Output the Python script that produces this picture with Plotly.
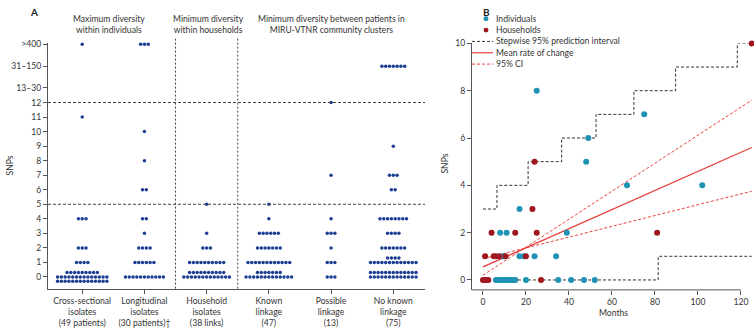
import plotly.graph_objects as go

W, H = 754, 328
FONT = "Lato"
TXT = "#333333"
AX = "#555555"

# ---------------- Panel A data ----------------
groups = [
    "Cross-sectional<br>isolates<br>(49 patients)",
    "Longitudinal<br>isolates<br>(30 patients)†",
    "Household<br>isolates<br>(38 links)",
    "Known<br>linkage<br>(47)",
    "Possible<br>linkage<br>(13)",
    "No known<br>linkage<br>(75)",
]
level_labels = ["0", "1", "2", "3", "4", "5", "6", "7", "8", "9", "10", "11", "12",
                "13–30", "31–150", ">400"]
level_axis = [0, 1, 2, 3, 4, 5, 6, 7, 8, 9, 10, 11, 12, 13, 14.5, 16]

cross_sectional = {"0": 37, "1": 4, "2": 3, "4": 3, "11": 1, ">400": 1}
longitudinal = {"0": 11, "1": 6, "2": 4, "3": 1, "4": 2, "6": 2, "8": 1, "10": 1, ">400": 3}
household = {"0": 23, "1": 10, "2": 3, "3": 1, "5": 1}
known_linkage = {"0": 20, "1": 12, "2": 7, "3": 6, "4": 1, "5": 1}
possible_linkage = {"0": 3, "1": 3, "2": 1, "3": 3, "4": 1, "7": 1, "12": 1}
no_known_linkage = {"0": 26, "1": 17, "2": 7, "3": 4, "4": 8, "6": 2, "7": 3, "9": 1, "31–150": 7}
group_counts = [cross_sectional, longitudinal, household, known_linkage,
                possible_linkage, no_known_linkage]
row_caps = [14, 13, 13, 13, 13, 13]

# ---------------- Panel B data ----------------
ind_months = [6, 7, 8, 9, 10, 10.5, 11, 12, 13, 14, 15, 20, 35, 41, 47, 52,
              9, 10, 17, 19, 24, 34,
              8, 11, 39,
              17,
              67, 102,
              48, 49, 75, 25]
ind_snps = [0, 0, 0, 0, 0, 0, 0, 0, 0, 0, 0, 0, 0, 0, 0, 0,
            1, 1, 1, 1, 1, 1,
            2, 2, 2,
            3,
            4, 4,
            5, 6, 7, 8]
hh_months = [0, 0.7, 1.5, 2.5, 27,
             1, 5, 6, 7.5, 10.5, 20,
             4, 15, 25, 81,
             23, 24, 125]
hh_snps = [0, 0, 0, 0, 0,
           1, 1, 1, 1, 1, 1,
           2, 2, 2, 2,
           3, 5, 10]
step_upper_months = [0, 6.5, 21, 36.6, 52.6, 70.2, 89.6, 118.3, 125]
step_upper_snps = [3, 4, 5, 6, 7, 8, 9, 10, 10]
step_lower_months = [0, 81.5, 125]
step_lower_snps = [0, 1, 1]
fit_months = [0, 125]
mean_snps = [0.55, 5.6]
ci_upper_snps = [0.2, 7.6]
ci_lower_snps = [0.90, 3.75]
b_xticks = [0, 20, 40, 60, 80, 100, 120]
b_yticks = [0, 2, 4, 6, 8, 10]


def px(x):
    return x / W


def py(y):
    return 1 - y / H


DOT_GAP = 0.061
ROW_GAP = 0.3


def swarm(gi, counts, cap):
    xs, ys = [], []
    for lab, n in counts.items():
        yv = level_axis[level_labels.index(lab)]
        rows = [cap] * (n // cap) + ([n % cap] if n % cap else [])
        k = len(rows)
        offs = [0] if k == 1 else [(i - (k - 2)) * ROW_GAP for i in range(k)]
        for r, off in zip(rows, offs):
            for j in range(r):
                xs.append(gi + (j - (r - 1) / 2) * DOT_GAP)
                ys.append(yv + off)
    return xs, ys


fig = go.Figure()

for gi, (counts, cap) in enumerate(zip(group_counts, row_caps)):
    xs, ys = swarm(gi, counts, cap)
    fig.add_trace(go.Scatter(x=xs, y=ys, mode="markers", xaxis="x", yaxis="y",
                             marker=dict(size=3.5, color="#1c3f94"),
                             cliponaxis=False, showlegend=False, hoverinfo="skip"))

# Panel B traces
dash_k = dict(color="#333333", width=1, dash="3px,2px")
dash_r = dict(color="#e8403c", width=1, dash="3px,2px")
fig.add_trace(go.Scatter(x=step_upper_months, y=step_upper_snps, mode="lines", line_shape="hv",
                         line=dash_k, xaxis="x2", yaxis="y2", showlegend=False, cliponaxis=False))
fig.add_trace(go.Scatter(x=step_lower_months, y=step_lower_snps, mode="lines", line_shape="hv",
                         line=dash_k, xaxis="x2", yaxis="y2", showlegend=False, cliponaxis=False))
fig.add_trace(go.Scatter(x=fit_months, y=ci_upper_snps, mode="lines", line=dash_r,
                         xaxis="x2", yaxis="y2", showlegend=False, cliponaxis=False))
fig.add_trace(go.Scatter(x=fit_months, y=ci_lower_snps, mode="lines", line=dash_r,
                         xaxis="x2", yaxis="y2", showlegend=False, cliponaxis=False))
fig.add_trace(go.Scatter(x=fit_months, y=mean_snps, mode="lines",
                         line=dict(color="#e8403c", width=1.3),
                         xaxis="x2", yaxis="y2", showlegend=False, cliponaxis=False))
fig.add_trace(go.Scatter(x=ind_months, y=ind_snps, mode="markers",
                         marker=dict(size=6, color="#1f93b6"),
                         xaxis="x2", yaxis="y2", showlegend=False, cliponaxis=False))
fig.add_trace(go.Scatter(x=hh_months, y=hh_snps, mode="markers",
                         marker=dict(size=6, color="#a0161f"),
                         xaxis="x2", yaxis="y2", showlegend=False, cliponaxis=False))

shapes = []
# Panel A reference lines
for yv in (12, 5):
    shapes.append(dict(type="line", xref="x domain", yref="y", x0=0, x1=1, y0=yv, y1=yv,
                       line=dict(color="#444", width=1, dash="3px,2px")))
for xv in (1.5, 2.5):
    shapes.append(dict(type="line", xref="x", yref="paper", x0=xv, x1=xv,
                       y0=py(288), y1=py(32),
                       line=dict(color="#444", width=1, dash="2px,2px")))
# Panel B x axis line (stops at 120)
shapes.append(dict(type="line", xref="x2", yref="y2 domain", x0=-5.1, x1=120, y0=0, y1=0,
                   line=dict(color=AX, width=1)))

FS = 8.6
annotations = []
# Legend of panel B
leg = [("Individuals", "dot", "#1f93b6", 14),
       ("Households", "dot", "#a0161f", 25.5),
       ("Stepwise 95% prediction interval", "dash", "#333333", 37),
       ("Mean rate of change", "solid", "#e8403c", 48.5),
       ("95% CI", "dash", "#e8403c", 60)]
for text, kind, col, yy in leg:
    if kind == "dot":
        shapes.append(dict(type="circle", xref="paper", yref="paper",
                           x0=px(483.5), x1=px(488.5), y0=py(yy + 2.5), y1=py(yy - 2.5),
                           fillcolor=col, line=dict(width=0)))
    else:
        shapes.append(dict(type="line", xref="paper", yref="paper",
                           x0=px(472), x1=px(493), y0=py(yy), y1=py(yy),
                           line=dict(color=col, width=1.2 if kind == "solid" else 1,
                                     dash="solid" if kind == "solid" else "3px,2px")))
    annotations.append(dict(text=text, xref="paper", yref="paper", x=px(494), y=py(yy),
                            xanchor="left", yanchor="middle", showarrow=False,
                            font=dict(size=FS, color=TXT, family=FONT)))

# headers panel A
for txt, cx in [("Maximum diversity<br>within individuals", 109),
                ("Minimum diversity<br>within households", 208),
                ("Minimum diversity between patients in<br>MIRU-VTNR community clusters", 331)]:
    annotations.append(dict(text=txt, xref="paper", yref="paper", x=px(cx), y=py(20),
                            xanchor="center", yanchor="middle", showarrow=False,
                            font=dict(size=FS, color=TXT, family=FONT)))
annotations += [
    dict(text="<b>A</b>", xref="paper", yref="paper", x=px(34), y=py(7), showarrow=False,
         xanchor="center", yanchor="middle", font=dict(size=10, color="#222", family=FONT)),
    dict(text="<b>B</b>", xref="paper", yref="paper", x=px(486), y=py(7), showarrow=False,
         xanchor="center", yanchor="middle", font=dict(size=10, color="#222", family=FONT)),
    dict(text="SNPs", xref="paper", yref="paper", x=px(10), y=py(163), showarrow=False,
         textangle=-90, xanchor="center", yanchor="middle",
         font=dict(size=FS, color=TXT, family=FONT)),
    dict(text="SNPs", xref="paper", yref="paper", x=px(445), y=py(161), showarrow=False,
         textangle=-90, xanchor="center", yanchor="middle",
         font=dict(size=FS, color=TXT, family=FONT)),
    dict(text="Months", xref="paper", yref="paper", x=px(613), y=py(313), showarrow=False,
         xanchor="center", yanchor="middle", font=dict(size=FS, color=TXT, family=FONT)),
]

axis_common = dict(showgrid=False, zeroline=False, showline=True, linecolor=AX, linewidth=1,
                   ticks="outside", ticklen=4, tickcolor=AX, tickwidth=1,
                   tickfont=dict(size=FS, color=TXT, family=FONT))

fig.update_layout(
    width=W, height=H, margin=dict(l=0, r=0, t=0, b=0),
    paper_bgcolor="white", plot_bgcolor="white",
    font=dict(family=FONT, size=FS, color=TXT),
    showlegend=False,
    xaxis=dict(domain=[px(48), px(425)], range=[-0.55, 5.51],
               tickmode="array", tickvals=list(range(len(groups))), ticktext=groups,
               **axis_common),
    yaxis=dict(domain=[py(288), py(38.5)], range=[-0.8, 16.1],
               tickmode="array", tickvals=level_axis, ticktext=level_labels,
               anchor="x", **axis_common),
    xaxis2=dict(domain=[px(472), px(752.8)], range=[-5.1, 125.5], anchor="y2",
                tickmode="array", tickvals=b_xticks, **{**axis_common, "showline": False}),
    yaxis2=dict(domain=[py(289.3), py(39)], range=[-0.42, 10.0], anchor="x2",
                tickmode="array", tickvals=b_yticks, **axis_common),
    shapes=shapes, annotations=annotations,
)

fig.write_html("out.html", config={"displayModeBar": False},
               post_script="document.body.style.margin='0';document.body.style.overflow='hidden';")
